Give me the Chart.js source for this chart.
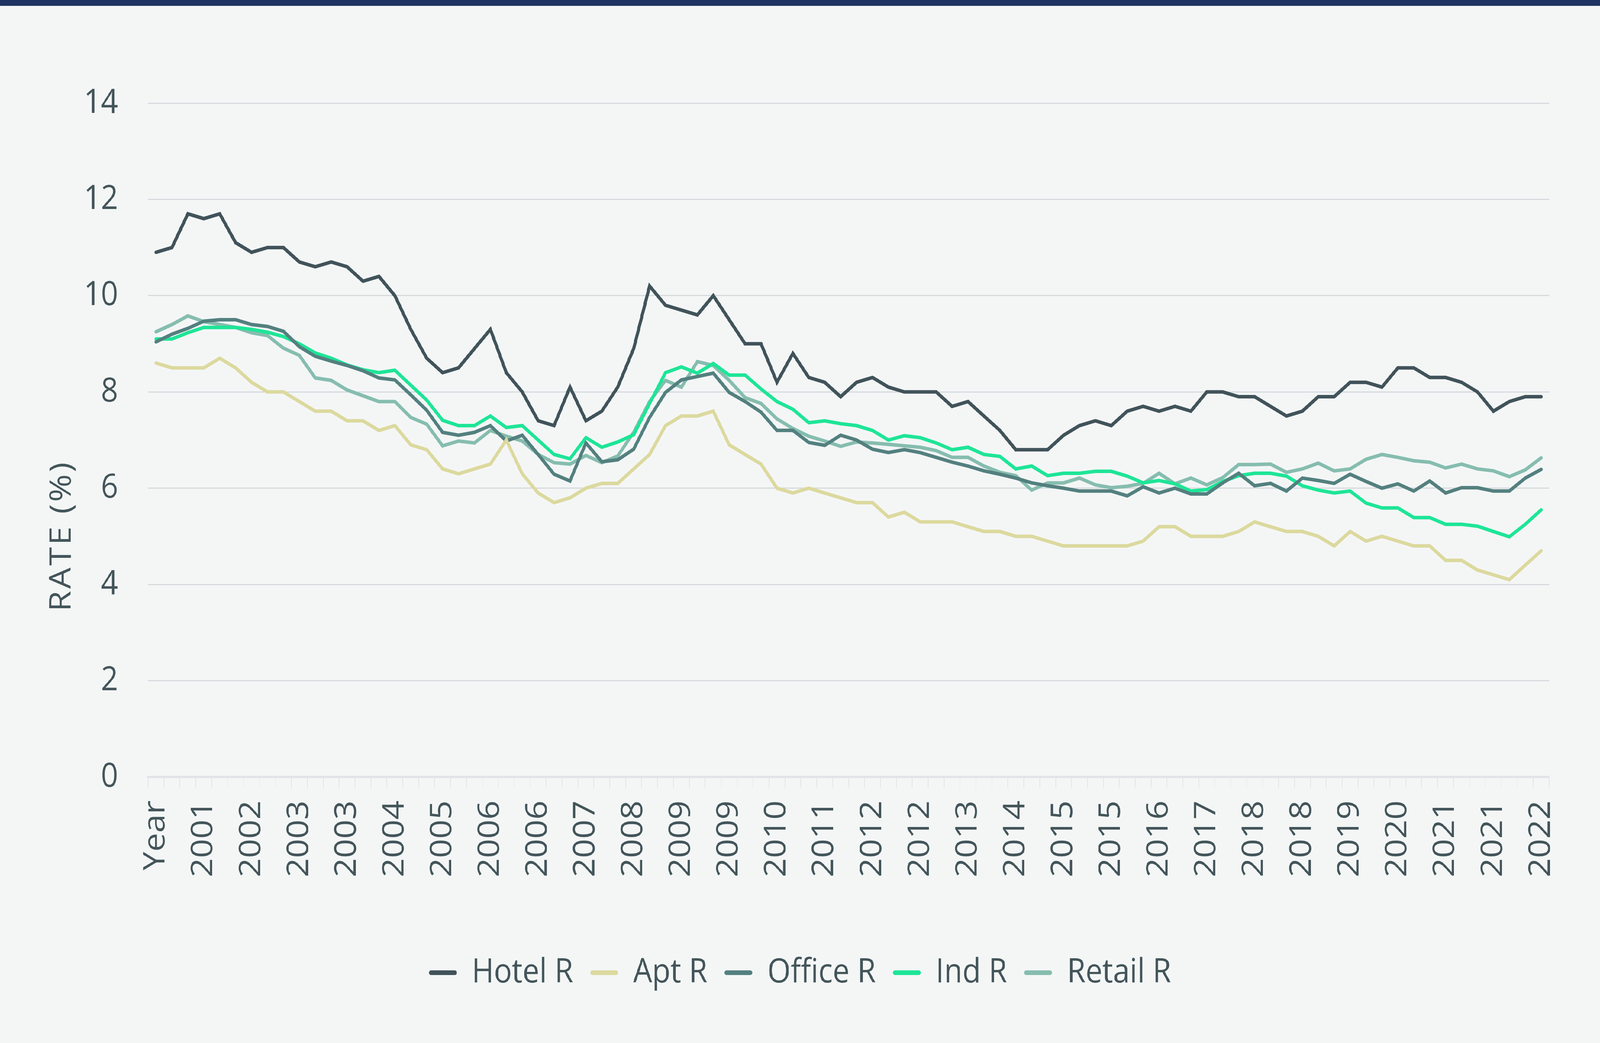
<!DOCTYPE html>
<html>
<head>
<meta charset="utf-8">
<script src="https://cdn.jsdelivr.net/npm/chart.js@4"></script>
<style>
  html, body { margin: 0; padding: 0; background: #f4f6f6; overflow: hidden; }
  #wrap { position: absolute; left: 0; top: 0; width: 4592px; height: 2670px; overflow: hidden; background: #f4f6f6; transform-origin: 0 0; }
  #topbar { position: absolute; left: 0; top: 0; width: 4592px; height: 15px; background: #1f3461; }
  canvas { position: absolute; left: 0; top: 0; }
</style>
</head>
<body>
<div id="wrap">
  <canvas id="c" width="4592" height="2670"></canvas>
  <div id="topbar"></div>
</div>
<script>
const categories = ["Year",
  "2001","2001","2001","2001","2002","2002","2002","2002","2003","2003","2003","2003",
  "2004","2004","2004","2004","2005","2005","2005","2005","2006","2006","2006","2006",
  "2007","2007","2007","2007","2008","2008","2008","2008","2009","2009","2009","2009",
  "2010","2010","2010","2010","2011","2011","2011","2011","2012","2012","2012","2012",
  "2013","2013","2013","2013","2014","2014","2014","2014","2015","2015","2015","2015",
  "2016","2016","2016","2016","2017","2017","2017","2017","2018","2018","2018","2018",
  "2019","2019","2019","2019","2020","2020","2020","2020","2021","2021","2021","2021",
  "2022","2022","2022"];

const hotelR = [10.9,11.0,11.7,11.6,11.7,11.1,10.9,11.0,11.0,10.7,
  10.6,10.7,10.6,10.3,10.4,10.0,9.3,8.7,8.4,8.5,
  8.9,9.3,8.4,8.0,7.4,7.3,8.1,7.4,7.6,8.1,
  8.9,10.2,9.8,9.7,9.6,10.0,9.5,9.0,9.0,8.2,
  8.8,8.3,8.2,7.9,8.2,8.3,8.1,8.0,8.0,8.0,
  7.7,7.8,7.5,7.2,6.8,6.8,6.8,7.1,7.3,7.4,
  7.3,7.6,7.7,7.6,7.7,7.6,8.0,8.0,7.9,7.9,
  7.7,7.5,7.6,7.9,7.9,8.2,8.2,8.1,8.5,8.5,
  8.3,8.3,8.2,8.0,7.6,7.8,7.9,7.9];

const aptR = [8.6,8.5,8.5,8.5,8.7,8.5,8.2,8.0,8.0,7.8,
  7.6,7.6,7.4,7.4,7.2,7.3,6.9,6.8,6.4,6.3,
  6.4,6.5,7.0,6.3,5.9,5.7,5.8,6.0,6.1,6.1,
  6.4,6.7,7.3,7.5,7.5,7.6,6.9,6.7,6.5,6.0,
  5.9,6.0,5.9,5.8,5.7,5.7,5.4,5.5,5.3,5.3,
  5.3,5.2,5.1,5.1,5.0,5.0,4.9,4.8,4.8,4.8,
  4.8,4.8,4.9,5.2,5.2,5.0,5.0,5.0,5.1,5.3,
  5.2,5.1,5.1,5.0,4.8,5.1,4.9,5.0,4.9,4.8,
  4.8,4.5,4.5,4.3,4.2,4.1,4.4,4.7];

const officeR = [9.04,9.2,9.32,9.47,9.5,9.5,9.4,9.36,9.26,8.94,
  8.74,8.64,8.55,8.44,8.29,8.25,7.94,7.62,7.16,7.10,
  7.16,7.30,6.98,7.10,6.70,6.29,6.15,6.94,6.55,6.59,
  6.81,7.47,7.99,8.25,8.32,8.39,7.99,7.80,7.58,7.20,
  7.20,6.95,6.89,7.10,7.00,6.81,6.74,6.80,6.74,6.64,
  6.54,6.46,6.36,6.29,6.21,6.11,6.05,6.0,5.94,5.94,
  5.94,5.84,6.03,5.90,6.0,5.88,5.88,6.11,6.31,6.05,
  6.10,5.94,6.21,6.16,6.10,6.29,6.14,6.0,6.09,5.94,
  6.15,5.90,6.01,6.01,5.94,5.94,6.21,6.39];

const indR = [9.10,9.10,9.23,9.34,9.34,9.34,9.30,9.24,9.15,9.00,
  8.81,8.70,8.56,8.46,8.40,8.45,8.14,7.83,7.41,7.30,
  7.30,7.50,7.26,7.30,7.00,6.70,6.61,7.05,6.85,6.96,
  7.11,7.76,8.40,8.52,8.39,8.59,8.35,8.35,8.06,7.80,
  7.64,7.36,7.40,7.34,7.30,7.20,7.00,7.09,7.05,6.94,
  6.80,6.85,6.70,6.66,6.40,6.46,6.26,6.31,6.31,6.35,
  6.35,6.25,6.11,6.16,6.09,5.94,5.97,6.14,6.26,6.31,
  6.31,6.25,6.05,5.96,5.90,5.94,5.69,5.59,5.59,5.39,
  5.39,5.25,5.25,5.21,5.10,4.99,5.25,5.55];

const retailR = [9.25,9.4,9.58,9.46,9.40,9.34,9.23,9.17,8.91,8.76,
  8.29,8.24,8.04,7.92,7.80,7.80,7.47,7.33,6.88,6.98,
  6.94,7.20,7.08,6.98,6.70,6.53,6.50,6.68,6.53,6.67,
  7.16,7.80,8.24,8.10,8.63,8.55,8.24,7.88,7.76,7.44,
  7.24,7.08,6.98,6.87,6.96,6.94,6.91,6.88,6.85,6.78,
  6.64,6.64,6.46,6.33,6.26,5.96,6.11,6.11,6.21,6.07,
  6.01,6.04,6.10,6.31,6.09,6.21,6.07,6.22,6.49,6.49,
  6.50,6.33,6.40,6.52,6.36,6.40,6.60,6.70,6.64,6.57,
  6.54,6.42,6.50,6.40,6.36,6.24,6.38,6.63];

const seriesNames = ["Hotel R", "Apt R", "Office R", "Ind R", "Retail R"];
const seriesColors = ["#41535a", "#dcd99e", "#53807f", "#1ee597", "#86bdaf"];
const yTicks = [0, 2, 4, 6, 8, 10, 12, 14];
const yTitle = "RATE (%)";

const FONT = "'Open Sans', Inter, sans-serif";
const TEXT = "#43555a";

// The chart is laid out in a 4592 x 2670 frame, then the frame is fitted to the viewport.
const W = window.innerWidth || document.documentElement.clientWidth || 4592;
const H = window.innerHeight || document.documentElement.clientHeight || 2670;
const sx = W / 4592, sy = H / 2670;
document.getElementById('wrap').style.transform = 'scale(' + sx + ',' + sy + ')';
const dpr = Math.max(1, (window.devicePixelRatio || 1) * Math.max(sx, sy));

const FS = 86;                    // font size for all text
const LPAD = 49;                  // legend item padding
const legendTop = 2490 - LPAD - FS / 2;
const legendBottom = legendTop + FS + LPAD + 10;
const xAxisHeight = legendTop - 1989;

const seriesData = [hotelR, aptR, officeR, indR, retailR];
const datasets = seriesNames.map((n, i) => ({
  label: n,
  data: seriesData[i],
  borderColor: seriesColors[i],
  backgroundColor: seriesColors[i],
  borderWidth: 9,
  pointRadius: 0,
  pointHoverRadius: 0,
  tension: 0,
  borderCapStyle: 'round',
  borderJoinStyle: 'miter',
  fill: false
}));

const yTitlePlugin = {
  id: 'yTitle',
  afterDraw(chart) {
    const ctx = chart.ctx;
    ctx.save();
    ctx.translate(178, 1372);
    ctx.rotate(-Math.PI / 2);
    ctx.font = FS + "px " + FONT;
    try { ctx.letterSpacing = '5px'; } catch (e) {}
    ctx.fillStyle = TEXT;
    ctx.textAlign = 'center';
    ctx.textBaseline = 'middle';
    ctx.fillText(yTitle, 0, 0);
    ctx.restore();
  }
};

new Chart(document.getElementById('c'), {
  type: 'line',
  data: { labels: categories, datasets },
  plugins: [yTitlePlugin],
  options: {
    responsive: false,
    animation: false,
    devicePixelRatio: dpr,
    layout: { padding: { top: 264, right: 146, left: 146, bottom: 2670 - legendBottom } },
    plugins: {
      tooltip: { enabled: false },
      legend: {
        position: 'bottom',
        align: 'center',
        labels: {
          font: { size: FS, family: FONT },
          color: TEXT,
          boxWidth: 80,
          boxHeight: 12,
          padding: LPAD,
          useBorderRadius: true,
          borderRadius: 6,
          generateLabels: (chart) => Chart.defaults.plugins.legend.labels.generateLabels(chart).map(l => Object.assign(l, { lineWidth: 0 }))
        }
      }
    },
    scales: {
      x: {
        offset: true,
        afterFit: (s) => { s.height = xAxisHeight; },
        grid: { drawOnChartArea: false, drawTicks: true, tickLength: 28, color: '#e1e5e8', lineWidth: 2, offset: true },
        border: { display: true, color: '#e1e5e8', width: 6 },
        ticks: {
          autoSkip: false,
          maxRotation: 90,
          minRotation: 90,
          padding: 32,
          color: TEXT,
          font: { size: FS, family: FONT },
          callback: function(v, i) { return i % 3 === 0 ? this.getLabelForValue(v) : ''; }
        }
      },
      y: {
        min: 0,
        max: 14,
        afterFit: (s) => { s.width = 425 - 146; },
        afterBuildTicks: (s) => { s.ticks = yTicks.map(v => ({ value: v })); },
        grid: { color: '#d6dadd', lineWidth: 3, drawTicks: false },
        border: { display: false },
        ticks: { padding: 86, color: TEXT, font: { size: FS, family: FONT } }
      }
    }
  }
});
</script>
</body>
</html>
